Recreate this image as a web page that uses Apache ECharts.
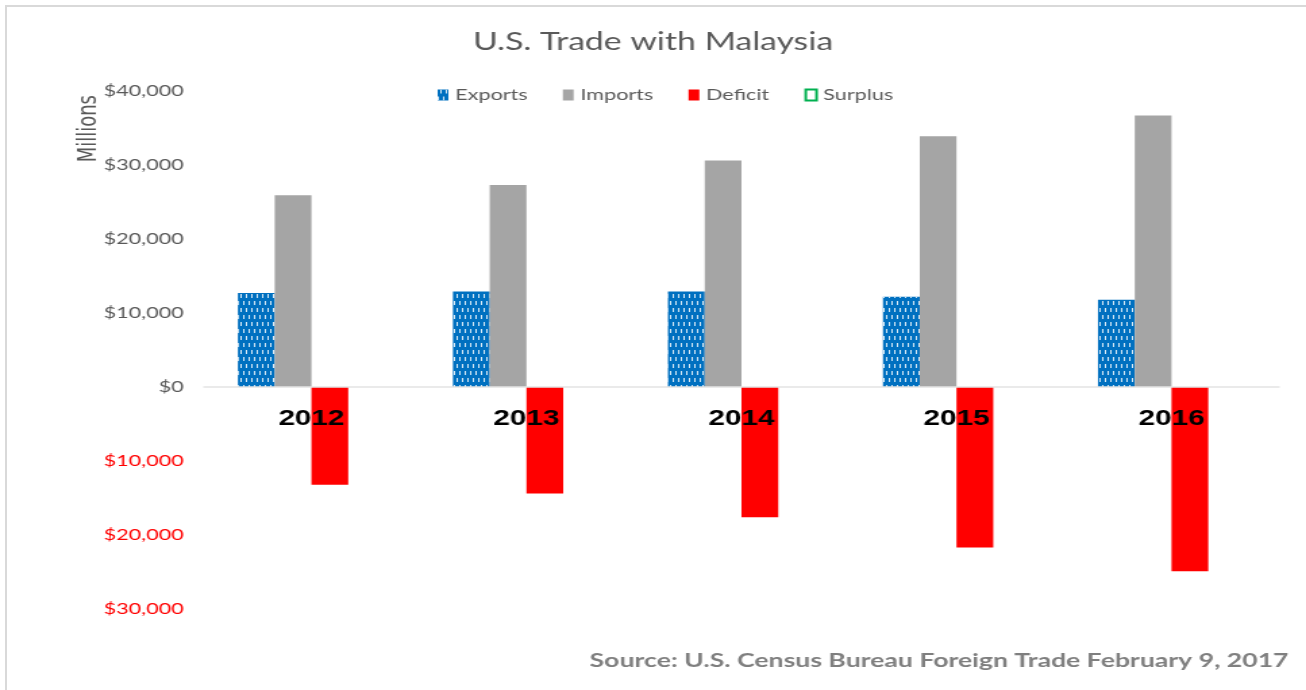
<!DOCTYPE html>
<html>
<head>
<meta charset="utf-8">
<script src="https://cdn.jsdelivr.net/npm/echarts@6/dist/echarts.min.js"></script>
<style>
  html, body { margin: 0; padding: 0; background: #fff; overflow: hidden; }
  #frame { position: absolute; left: 5px; top: 5px; width: 1301px; height: 685px;
           border-left: 2px solid #d9d9d9; border-top: 2px solid #d9d9d9; box-sizing: border-box; }
  /* the reference is stretched sideways, so draw narrow and widen it */
  #chart { position: absolute; left: 0; top: 0; width: 967px; height: 690px;
           transform: scaleX(1.3506); transform-origin: 0 0; }
</style>
</head>
<body>
<div id="frame"></div>
<div id="chart"></div>
<script>
// data (millions of dollars)
const years = ['2012', '2013', '2014', '2015', '2016'];
const exportsVals = [12700, 12900, 12900, 12200, 11800];
const importsVals = [25900, 27300, 30600, 33900, 36700];
const deficitVals = [-13200, -14400, -17600, -21700, -24900];
const surplusVals = [null, null, null, null, null];

const font = 'Lato, "Open Sans", sans-serif';

const chart = echarts.init(document.getElementById('chart'));
const option = {
  animation: false,
  title: {
    text: 'U.S. Trade with Malaysia',
    left: 'center',
    top: 24,
    textStyle: { fontFamily: font, fontSize: 25, fontWeight: 'normal', color: '#595959' }
  },
  legend: {
    left: 319,
    top: 82,
    itemWidth: 8,
    itemHeight: 11,
    itemGap: 26,
    textStyle: { fontFamily: font, fontSize: 16, color: '#595959' },
    data: [
      { name: 'Exports', icon: 'rect' },
      { name: 'Imports', icon: 'rect' },
      { name: 'Deficit', icon: 'rect' },
      { name: 'Surplus', icon: 'rect', itemStyle: { color: '#fff', borderColor: '#00b050', borderWidth: 2 } }
    ]
  },
  grid: { left: 151, right: 20, top: 91, bottom: 81 },
  xAxis: {
    type: 'category',
    data: years,
    offset: -222,
    z: 10, // year labels sit on top of the deficit bars
    axisLine: { onZero: false, lineStyle: { color: '#e3e3e3', width: 1.5 } },
    axisTick: { show: false },
    axisLabel: { margin: 21, fontFamily: 'Arial, "Liberation Sans", sans-serif', fontSize: 22, fontWeight: 'bold', color: '#000' }
  },
  yAxis: {
    type: 'value',
    min: -30000,
    max: 40000,
    interval: 10000,
    splitLine: { show: false },
    axisLine: { show: false },
    axisTick: { show: false },
    axisLabel: {
      margin: 15,
      fontFamily: font,
      fontSize: 16,
      color: function (v) { return v < 0 ? '#ff0000' : '#595959'; },
      formatter: function (v) { return '$' + Math.abs(v).toLocaleString('en-US'); }
    }
  },
  graphic: [
    {
      type: 'text',
      left: 56,
      top: 95,
      rotation: Math.PI / 2,
      style: { text: 'Millions', fontFamily: '"Liberation Sans Narrow", "DejaVu Sans Condensed", sans-serif', fontSize: 20, fill: '#595959' }
    },
    {
      type: 'text',
      right: 13,
      top: 651,
      style: { text: 'Source: U.S. Census Bureau Foreign Trade February 9, 2017', fontFamily: font, fontSize: 19.7, fontWeight: 'bold', fill: '#7f7f7f' }
    }
  ],
  series: [
    {
      name: 'Exports', type: 'bar', data: exportsVals,
      barGap: '0%', barCategoryGap: '31.6%',
      itemStyle: {
        color: '#0070c0',
        decal: {
          symbol: 'rect', color: 'rgba(255,255,255,0.85)', symbolSize: 1, rotation: 0,
          dashArrayX: [[1, 2.7], [0, 1.85, 1, 0.85]],
          dashArrayY: [4, 3]
        }
      }
    },
    { name: 'Imports', type: 'bar', data: importsVals, itemStyle: { color: '#a5a5a5' } },
    { name: 'Deficit', type: 'bar', data: deficitVals, itemStyle: { color: '#ff0000' } },
    { name: 'Surplus', type: 'bar', data: surplusVals, itemStyle: { color: '#fff', borderColor: '#00b050', borderWidth: 2 } }
  ]
};
chart.setOption(option);
</script>
</body>
</html>
